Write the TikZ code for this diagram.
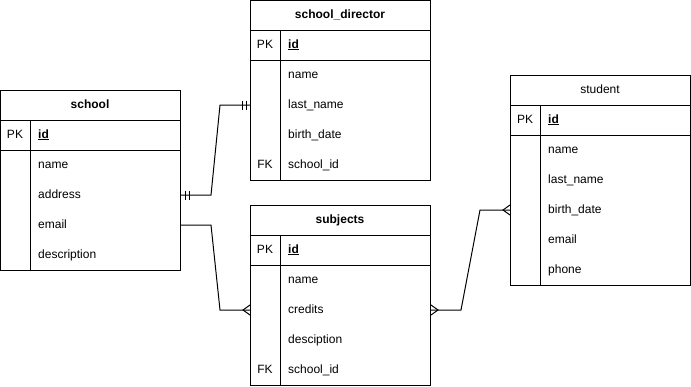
\documentclass[tikz,border=0pt]{standalone}
\usepackage{fontspec}
\setmainfont{Liberation Sans}
\usetikzlibrary{calc}
\newcommand\fsz{\fontsize{12}{14}\selectfont}
\begin{document}
\begin{tikzpicture}[x=1pt,y=-1pt,
  tbl/.style={draw, line width=1pt, anchor=north west, minimum width=180pt, inner sep=0pt},
  sepline/.style={line width=1pt},
  fld/.style={anchor=west, inner sep=0pt, font=\fsz, text height=9pt, text depth=3pt},
  keyf/.style={anchor=center, inner sep=0pt, font=\fsz, text height=9pt, text depth=3pt},
  ttl/.style={anchor=center, inner sep=0pt, font=\fsz\bfseries, text height=9pt, text depth=3pt},
  ttln/.style={anchor=center, inner sep=0pt, font=\fsz, text height=9pt, text depth=3pt},
  conn/.style={line width=1pt},
  endmark/.style={line width=1pt}
]
\useasboundingbox (0,0) rectangle (691,386);

% ---------------- school ----------------
\node[tbl, minimum height=180pt] (sch) at (0,90) {};
\draw[sepline] (0,120) -- (180,120) (0,150) -- (180,150) (30,120) -- (30,270);
\node[ttl] (sch-t) at (90,105) {school};
\node[keyf] (sch-pk) at (15,135) {PK};
\node[fld, font=\fsz\bfseries] (sch-id) at (38,135) {\underline{id}};
\node[fld] (sch-name) at (38,165) {name};
\node[fld] (sch-address) at (38,195) {address};
\node[fld] (sch-email) at (38,225) {email};
\node[fld] (sch-desc) at (38,255) {description};

% ---------------- school_director ----------------
\node[tbl, minimum height=180pt] (dir) at (250,0) {};
\draw[sepline] (250,30) -- (430,30) (250,60) -- (430,60) (280,30) -- (280,180);
\node[ttl] (dir-t) at (340,15) {school\_director};
\node[keyf] (dir-pk) at (265,45) {PK};
\node[fld, font=\fsz\bfseries] (dir-id) at (288,45) {\underline{id}};
\node[fld] (dir-name) at (288,75) {name};
\node[fld] (dir-last) at (288,105) {last\_name};
\node[fld] (dir-birth) at (288,135) {birth\_date};
\node[keyf] (dir-fk) at (265,165) {FK};
\node[fld] (dir-sid) at (288,165) {school\_id};

% ---------------- subjects ----------------
\node[tbl, minimum height=180pt] (sub) at (250,205) {};
\draw[sepline] (250,235) -- (430,235) (250,265) -- (430,265) (280,235) -- (280,385);
\node[ttl] (sub-t) at (340,220) {subjects};
\node[keyf] (sub-pk) at (265,250) {PK};
\node[fld, font=\fsz\bfseries] (sub-id) at (288,250) {\underline{id}};
\node[fld] (sub-name) at (288,280) {name};
\node[fld] (sub-credits) at (288,310) {credits};
\node[fld] (sub-desc) at (288,340) {desciption};
\node[keyf] (sub-fk) at (265,370) {FK};
\node[fld] (sub-sid) at (288,370) {school\_id};

% ---------------- student ----------------
\node[tbl, minimum height=210pt] (stu) at (510,75) {};
\draw[sepline] (510,105) -- (690,105) (510,135) -- (690,135) (540,105) -- (540,285);
\node[ttln] (stu-t) at (600,90) {student};
\node[keyf] (stu-pk) at (525,120) {PK};
\node[fld, font=\fsz\bfseries] (stu-id) at (548,120) {\underline{id}};
\node[fld] (stu-name) at (548,150) {name};
\node[fld] (stu-last) at (548,180) {last\_name};
\node[fld] (stu-birth) at (548,210) {birth\_date};
\node[fld] (stu-email) at (548,240) {email};
\node[fld] (stu-phone) at (548,270) {phone};

% ---------------- connectors ----------------
% school.address -- school_director.last_name (one to one)
\coordinate (a1) at (sch.east |- sch-address);
\coordinate (b1) at (dir.west |- dir-last);
\draw[conn] (a1) -- ++(30,0) -- ($(b1)+(-30,0)$) -- (b1);
\draw[endmark] ($(a1)+(4,-4.5)$) -- ++(0,9) ($(a1)+(8,-4.5)$) -- ++(0,9);
\draw[endmark] ($(b1)+(-4,-4.5)$) -- ++(0,9) ($(b1)+(-8,-4.5)$) -- ++(0,9);

% school.email -- subjects.credits (many)
\coordinate (a2) at (sch.east |- sch-email);
\coordinate (b2) at (sub.west |- sub-credits);
\draw[conn] (a2) -- ++(30,0) -- ($(b2)+(-30,0)$) -- (b2);
\draw[endmark] ($(b2)+(0,-5)$) -- ($(b2)+(-7,0)$) -- ($(b2)+(0,5)$);

% subjects.credits -- student.birth_date (many to many)
\coordinate (a3) at (sub.east |- sub-credits);
\coordinate (b3) at (stu.west |- stu-birth);
\draw[conn] (a3) -- ++(30,0) -- ($(b3)+(-30,0)$) -- (b3);
\draw[endmark] ($(a3)+(0,-5)$) -- ($(a3)+(7,0)$) -- ($(a3)+(0,5)$);
\draw[endmark] ($(b3)+(0,-5)$) -- ($(b3)+(-7,0)$) -- ($(b3)+(0,5)$);
\end{tikzpicture}
\end{document}
